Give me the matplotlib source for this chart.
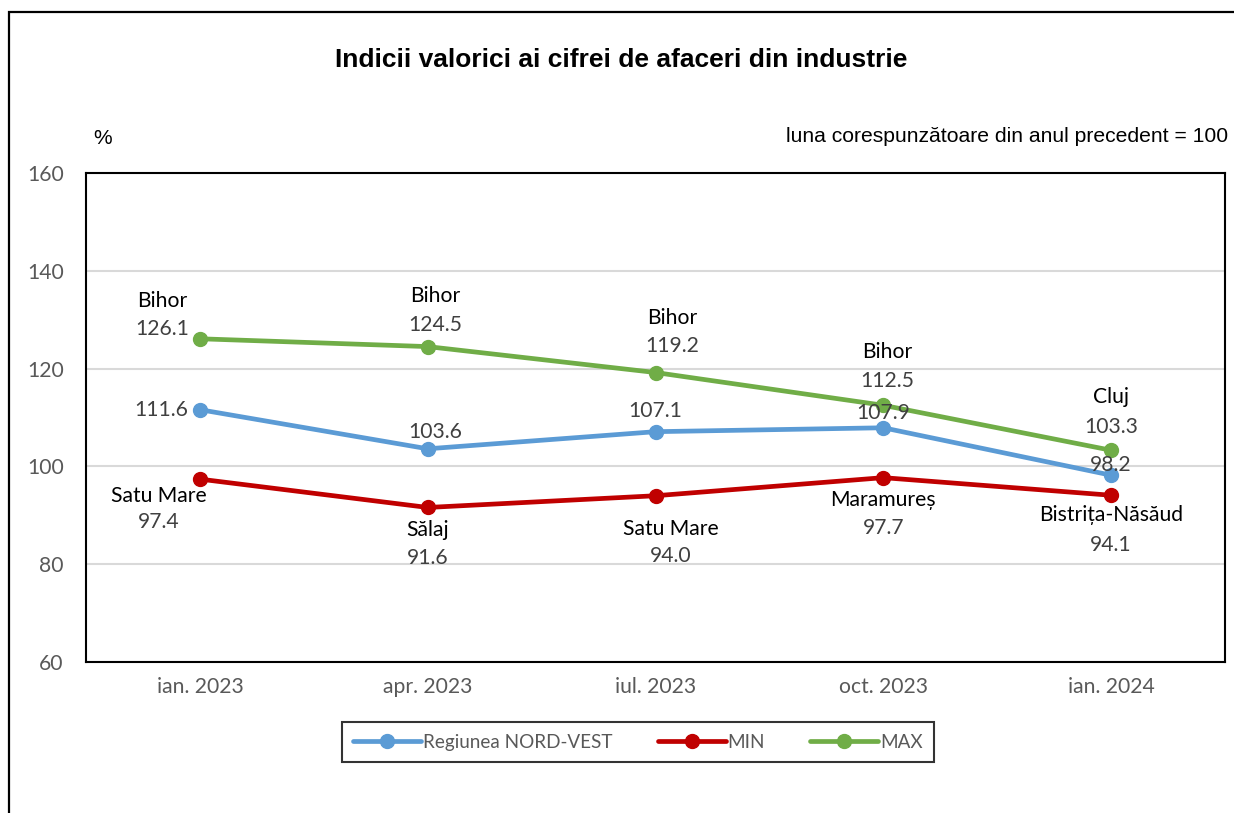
import matplotlib.pyplot as plt
from matplotlib.patches import Rectangle

# data
months = ["ian. 2023", "apr. 2023", "iul. 2023", "oct. 2023", "ian. 2024"]
regiune = [111.6, 103.6, 107.1, 107.9, 98.2]
min_vals = [97.4, 91.6, 94.0, 97.7, 94.1]
min_names = ["Satu Mare", "Sălaj", "Satu Mare", "Maramureș", "Bistrița-Năsăud"]
max_vals = [126.1, 124.5, 119.2, 112.5, 103.3]
max_names = ["Bihor", "Bihor", "Bihor", "Bihor", "Cluj"]

BLUE = "#5B9BD5"
RED = "#C00000"
GREEN = "#70AD47"
NUM = "#404040"
LBL_FONT = "Lato"
FS = 15.2

fig = plt.figure(figsize=(12.34, 8.13), dpi=100)
ax = fig.add_axes([86 / 1234, 1 - 662 / 813, (1225 - 86) / 1234, (662 - 173) / 813])

# outer frame (right and bottom fall outside the picture)
fig.add_artist(Rectangle((9 / 1234, -0.1), 1.2, 1 - 12 / 813 + 0.1, transform=fig.transFigure,
                         fill=False, edgecolor="black", linewidth=1.6))

x = list(range(len(months)))
kw = dict(linewidth=3.4, marker="o", markersize=10, solid_capstyle="round")
ax.plot(x, regiune, color=BLUE, label="Regiunea NORD-VEST", zorder=3, **kw)
ax.plot(x, min_vals, color=RED, label="MIN", zorder=3, **kw)
ax.plot(x, max_vals, color=GREEN, label="MAX", zorder=3, **kw)

ax.set_xlim(-0.5, 4.5)
ax.set_ylim(60, 160)
ax.set_yticks([60, 80, 100, 120, 140, 160])
ax.set_xticks(x)
ax.set_xticklabels(months)
ax.grid(axis="y", color="#D9D9D9", linewidth=1.5)
ax.set_axisbelow(True)
ax.tick_params(length=0, labelsize=FS, colors="#595959", pad=11)
ax.tick_params(axis="y", pad=16)
for lab in ax.get_xticklabels() + ax.get_yticklabels():
    lab.set_fontfamily(LBL_FONT)
for s in ax.spines.values():
    s.set_linewidth(1.5)
    s.set_color("black")


def label(xi, yi, name, val, dx, dy_name, dy_val):
    if name:
        ax.annotate(name, (xi, yi), xytext=(dx, dy_name), textcoords="offset pixels",
                    ha="center", va="center", fontsize=FS, family=LBL_FONT, color="black")
    ax.annotate(f"{val:.1f}", (xi, yi), xytext=(dx, dy_val), textcoords="offset pixels",
                ha="center", va="center", fontsize=FS, family=LBL_FONT, color=NUM)


# MAX labels (pixel offsets from the point)
max_off = [(-38, 38, 10), (8, 51, 22), (17, 55, 27), (4, 53, 24), (0, 53, 23)]
for i in x:
    dx, a, b = max_off[i]
    label(i, max_vals[i], max_names[i], max_vals[i], dx, a, b)

# region labels
reg_off = [(-39, 0), (8, 17), (0, 21), (0, 15), (0, 10)]
for i in x:
    dx, b = reg_off[i]
    label(i, regiune[i], None, regiune[i], dx, 0, b)

# MIN labels
min_off = [(-41, -17, -43), (0, -23, -51), (15, -33, -60), (0, -22, -50), (0, -20, -50)]
for i in x:
    dx, a, b = min_off[i]
    label(i, min_vals[i], min_names[i], min_vals[i], dx, a, b)

fig.text(621 / 1234, 1 - 60 / 813, "Indicii valorici ai cifrei de afaceri din industrie",
         ha="center", va="center", fontsize=19, fontweight="bold", family="Liberation Sans")
fig.text(1228 / 1234, 1 - 137 / 813, "luna corespunzătoare din anul precedent = 100",
         ha="right", va="center", fontsize=15.2, family="Liberation Sans")
fig.text(103 / 1234, 1 - 138 / 813, "%", ha="center", va="center", fontsize=15,
         family="Liberation Sans")

leg = fig.legend(loc="center", bbox_to_anchor=(638 / 1234, 1 - 742 / 813), ncol=3,
                 frameon=True, fancybox=False, edgecolor="black", handlelength=3.6,
                 handletextpad=0.1, columnspacing=2.4, borderpad=0.6,
                 prop={"family": LBL_FONT, "size": 13.6})
leg.get_frame().set_linewidth(1.5)
for t in leg.get_texts():
    t.set_color("#595959")

fig.savefig("out.png", dpi=100)
